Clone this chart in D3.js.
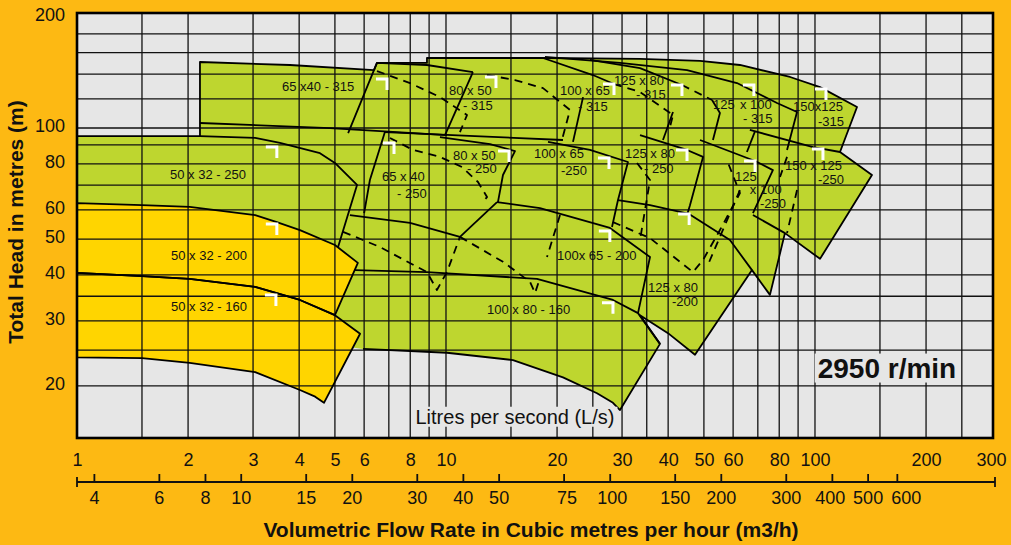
<!DOCTYPE html>
<html><head><meta charset="utf-8">
<script src="https://cdn.jsdelivr.net/npm/d3@7"></script>
<style>
body{margin:0;background:#FDB913;}
svg{display:block;font-family:"Liberation Sans",Arial,Helvetica,sans-serif;}
</style></head><body>
<svg id="chart" width="1011" height="545"></svg>
<script>
// ---------- data ----------
const flowTicksLs  = [1,2,3,4,5,6,8,10,20,30,40,50,60,80,100,200,300];
const flowTicksM3h = [4,6,8,10,15,20,30,40,50,75,100,150,200,300,400,500,600];
const headTicks    = [20,30,40,50,60,80,100,200];
const gridFlow = [1.5,2,3,4,5,6,7,8,9,10,15,20,25,30,35,40,50,60,70,80,90,100,150,200,250];
const gridHead = [20,25,30,35,40,50,60,70,80,90,100,120,140,160,180];

// overall green field envelope [flow L/s, head m]
const greenEnvelope = [[2.154,151],[3.778,148.2],[6.38,143.6],[6.5,150.1],[8.88,150.1],[8.88,154.8],[18.55,154.8],[33.56,153.9],[48.8,152],[62.61,148.2],[85.6,137.5],[103.2,129.1],[130,114],[116.9,86.1],[142.7,74.6],[103.2,44.2],[82.9,51.9],[75.5,35.3],[67.5,41.2],[47.3,24.3],[39.96,27.8],[33.56,31.1],[38.01,26],[29.62,17.2],[28.35,18],[25.66,19.1],[20.75,21.1],[15.19,23.5],[10.06,24.6],[5.96,25.2],[4.02,26.6],[2.154,34.2],[1,46.7],[1,95.1],[2.154,95.1]];
const greenEnvelopeEdge = [[6.38,143.6],[6.5,150.1],[8.88,150.1],[8.88,154.8],[18.55,154.8],[33.56,153.9],[48.8,152],[62.61,148.2],[85.6,137.5],[103.2,129.1],[130,114],[116.9,86.1],[142.7,74.6],[103.2,44.2],[82.9,51.9],[75.5,35.3],[67.5,41.2],[47.3,24.3],[39.96,27.8],[33.56,31.1],[38.01,26],[29.62,17.2],[28.35,18],[25.66,19.1],[20.75,21.1],[15.19,23.5],[10.06,24.6],[5.96,25.2]];

const yellow200 = [[1,62.6],[1.5,61.8],[2.02,61.1],[3.04,58.1],[3.48,55.6],[4.02,52.9],[5,48.2],[5.77,43.1],[5,31.1],[4.02,34.2],[3.04,37.1],[2.02,39],[1.5,39.7],[1,40.5]];
const yellow160 = [[1,40.5],[1.5,39.7],[2.02,39],[3.04,37.1],[4.02,34.2],[5,31.1],[5.85,27.7],[4.67,18],[4.42,18.7],[4.02,19.5],[3.04,21.8],[2.02,23.1],[1.5,23.8],[1,23.9]];

const solidLines = [
  [[1,95.1],[2.154,95.1],[3.04,94],[3.549,91.1],[4.555,85.5],[5,80.4],[5.74,70.1],[5.1,47.6]],
  [[2.154,95.1],[2.154,151],[3.778,148.2],[6.38,143.6]],
  [[2.154,103.2],[4.85,100],[10.06,95.7]],
  [[5.43,96.9],[6.5,150.1],[8.88,148.2],[11.83,141.8]],
  [[11.83,141.8],[9.94,95.7]],
  [[18.32,154.8],[25,139.2],[28.53,131.6]],
  [[23.52,121.3],[22.09,91.7]],
  [[24.56,152.9],[33.56,145.4],[43.6,130.8]],
  [[41.23,110.5],[38.73,92.8]],
  [[52.6,119.1],[55.26,109.8],[52.9,92.8]],
  [[18.55,155.8],[29.62,150.1],[45,143.6],[61.45,132.4],[78.9,116.9],[89.4,110.5],[84,87.2]],
  [[6.83,97.5],[11.98,95.1],[20.75,92.8]],
  [[6.83,97.5],[6.22,72.3],[6,58.8]],
  [[5.49,58.1],[7.99,55.3],[10.91,50.7]],
  [[10.91,50.7],[13.75,63]],
  [[9.63,94.5],[13.16,90.5],[15.38,86.6],[14.27,74.6],[13.83,63]],
  [[13.75,63],[17.98,60.7],[27.82,53.6],[35.72,44.7],[33.14,31.5]],
  [[18.9,91.7],[24.56,87.2],[31.13,80.9],[29.25,63.8],[28.18,53.9]],
  [[29.25,63.8],[35.72,61.8],[45.57,58.5],[58.82,49.7],[67.5,41.2]],
  [[33.56,95.7],[45,87.2],[49.73,83.5],[45.84,61.8],[45,58.1]],
  [[48.8,92.8],[68.8,81.4],[76.9,76.9],[67.9,58.8]],
  [[68.8,98.1],[65.4,86.1]],
  [[82.9,51.9],[67.9,58.1]],
  [[66.6,98.8],[98.8,88.8],[116.9,86.1]],
  [[5.67,41.2],[8.88,40.7],[17.65,39],[28.35,34.2],[33.14,31.5],[38.01,26]]
];
const dashedLines = [
  [[6.5,142.7],[7.99,132.4],[9.63,121.3],[11.4,108.4],[10.91,97.5]],
  [[12.92,139.2],[15.38,134.9],[18.32,128.3],[21.68,111.9],[20.62,92.8]],
  [[28.53,131.6],[33.56,125.2],[38.73,113.3],[41.23,108.4],[40.46,100.6]],
  [[43.6,130.8],[52.6,119.1]],
  [[7.05,94],[8.14,87.2],[9.63,83.5],[11.05,78.4],[12.21,71.4],[12.92,65],[12.52,62.6]],
  [[5.26,52.3],[6.62,47.6],[8.88,40.7],[9.45,36.4],[10.06,40.7],[10.91,50.7]],
  [[10.91,50.7],[14.27,43.4],[16.89,38.3],[17.43,35.7],[17.98,39.2]],
  [[20.37,58.1],[18.78,44.7]],
  [[32.94,80.4],[35.72,72.3],[33.56,49.7]],
  [[28.35,55.6],[35.72,50.3],[46.71,40.7],[49.73,43.9],[55.26,52.9],[62.61,66.6],[57.73,81.9]],
  [[89.4,67.9],[84,51.9]],
  [[62.61,67.9],[50.98,42]],
  [[84,83.5],[80.4,73.7]]
];

// label text, left x (L/s), centre y (m)
const pumpLabels = [
  ["65 x40 - 315",3.594,130],["50 x 32 - 250",1.787,75],["50 x 32 - 200",1.798,45.3],["50 x 32 - 160",1.798,32.9],
  ["65 x 40",6.71,74.1],["- 250",7.37,66.6],["80 x 50",10.19,126.4],["- 315",11.12,115],
  ["100 x 65",20.37,126.4],["- 315",22.79,114.7],["125 x 80",28.53,135],["- 315",32.73,123.6],
  ["125",52.9,116.2],["x 100",62.61,116.2],["- 315",63.8,106.2],["150x125",87.2,114.4],["-315",101.9,104.2],
  ["80 x 50",10.45,84.5],["- 250",11.4,77.6],["100 x 65",17.32,85.2],["-250",20.5,76.6],
  ["125 x 80",30.56,85.2],["- 250",34.4,78],["125",60.7,74.1],["x 100",66.6,68.3],["-250",70.95,62.7],
  ["150 x 125",82.9,79.4],["-250",101.9,72.4],["100x 65 - 200",20,45.3],["100 x 80 - 160",12.92,32.3],
  ["125 x 80",35.3,37.1],["-200",40.97,33.9]
];
// best efficiency corner marks [flow, head]
const marks = [[3.48,88.8],[3.48,54.9],[3.46,35.3],[6.92,135.8],[13.66,137.5],[28.53,131.6],[43.6,130.8],[68.3,130.8],[107.1,127.5],
  [7.23,91.1],[14.82,86.6],[27.65,82.9],[45,87.2],[68.8,81.4],[105.1,87.7],[27.8,52.6],[28.35,33.6],[45.6,58.5]];

// ---------- chart ----------
const svg = d3.select("#chart");
const x = d3.scaleLog().domain([1,303.7]).range([77,993]);
const y = d3.scaleLog().domain([14.45,205]).range([438,13]);
const x2 = d3.scaleLog().domain([3.6,303.7*3.6]).range([77,993]);
const line = d3.line().x(d=>x(d[0])).y(d=>y(d[1]));

svg.append("rect").attr("width",1011).attr("height",545).attr("fill","#FDB913");
svg.append("rect").attr("x",77).attr("y",13).attr("width",916).attr("height",425).attr("fill","#E6E6E6");

svg.append("path").attr("d",line(greenEnvelope)+"Z").attr("fill","#BED62F");
[yellow200,yellow160].forEach(p=>svg.append("path").attr("d",line(p)+"Z").attr("fill","#FFD500"));

// grid
const g = svg.append("g").attr("stroke","#111").attr("stroke-width",1.3);
gridFlow.forEach(v=>g.append("line").attr("x1",x(v)).attr("x2",x(v)).attr("y1",13).attr("y2",438));
gridHead.forEach(v=>g.append("line").attr("y1",y(v)).attr("y2",y(v)).attr("x1",77).attr("x2",993));

const lg = svg.append("g").attr("fill","none").attr("stroke","#000").attr("stroke-width",1.8).attr("stroke-linejoin","round");
lg.append("path").attr("d",line(greenEnvelopeEdge));
solidLines.forEach(p=>lg.append("path").attr("d",line(p)));
dashedLines.forEach(p=>lg.append("path").attr("d",line(p)).attr("stroke-dasharray","8,6"));
[yellow200,yellow160].forEach(p=>lg.append("path").attr("d",line(p)+"Z"));

// labels
svg.append("g").selectAll("text").data(pumpLabels).join("text")
  .attr("x",d=>x(d[1])).attr("y",d=>y(d[2])).attr("dy","0.36em")
  .attr("font-size",13).attr("fill","#111").text(d=>d[0]);

// marks
svg.append("g").attr("fill","none").attr("stroke","#fff").attr("stroke-width",3).selectAll("path").data(marks).join("path")
  .attr("d",d=>{const px=x(d[0]),py=y(d[1]);return `M${px-11},${py}H${px}V${py+11}`;});

// frame
svg.append("rect").attr("x",77).attr("y",13).attr("width",916).attr("height",425).attr("fill","none").attr("stroke","#000").attr("stroke-width",2.6);

// special texts with background
function bgText(txt,q,h,size,weight){
  const t = svg.append("text").attr("x",x(q)).attr("y",y(h)).attr("dy","0.35em").attr("text-anchor","middle")
    .attr("font-size",size).attr("font-weight",weight).attr("fill","#111").text(txt);
  const b = t.node().getBBox();
  svg.insert("rect",()=>t.node()).attr("x",b.x-3).attr("y",b.y+1).attr("width",b.width+6).attr("height",b.height-2).attr("fill","#E6E6E6");
}
bgText("Litres per second (L/s)",15.38,16.5,20,"normal");
bgText("2950 r/min",156.7,22.4,28,"bold");

// top flow labels (L/s)
const topAx = svg.append("g").attr("transform","translate(0,446)")
  .call(d3.axisBottom(x).tickValues(flowTicksLs).tickFormat(d3.format("d")).tickSize(0).tickPadding(7));
topAx.select(".domain").remove();
topAx.selectAll("text").attr("font-size",18).attr("font-family","Liberation Sans, Arial, sans-serif").attr("fill","#111");

// bottom m3/h axis
const labelShift = {75:3,100:2,400:-2,600:9};
const botAx = svg.append("g").attr("transform","translate(0,482)")
  .call(d3.axisBottom(x2).tickValues(flowTicksM3h).tickFormat(d3.format("d")).tickSizeInner(-8).tickSizeOuter(0).tickPadding(9));
botAx.select(".domain").attr("stroke","#111").attr("stroke-width",1.8).attr("d","M77,0H995");
botAx.selectAll(".tick line").attr("stroke","#111").attr("stroke-width",1.8);
botAx.selectAll("text").attr("font-size",18).attr("font-family","Liberation Sans, Arial, sans-serif").attr("fill","#111")
  .attr("dx",d=>labelShift[d]||0);
botAx.append("path").attr("d","M77,-5V5M995,-5V5").attr("stroke","#111").attr("stroke-width",1.8);

// y labels
const yAx = svg.append("g").attr("transform","translate(77,-2)")
  .call(d3.axisLeft(y).tickValues(headTicks).tickFormat(d3.format("d")).tickSize(0).tickPadding(12));
yAx.select(".domain").remove();
yAx.selectAll("text").attr("font-size",18).attr("font-family","Liberation Sans, Arial, sans-serif").attr("fill","#111");

// titles
svg.append("text").attr("x",531).attr("y",537).attr("text-anchor","middle").attr("font-size",21).attr("font-weight","bold").attr("fill","#111")
  .text("Volumetric Flow Rate in Cubic metres per hour (m3/h)");
svg.append("text").attr("transform","translate(23,222) rotate(-90)").attr("text-anchor","middle").attr("font-size",21).attr("font-weight","bold").attr("fill","#111")
  .text("Total Head in metres (m)");
</script></body></html>
